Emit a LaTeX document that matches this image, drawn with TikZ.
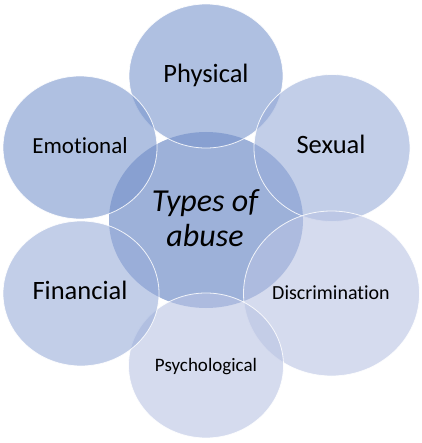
\documentclass[tikz,border=0pt]{standalone}
\usepackage{fontspec}
\setmainfont{Carlito}[Ligatures=NoCommon]
\usepackage{tikz}
\usetikzlibrary{positioning}
\definecolor{abuseHub}  {HTML}{9DB1D9}
\definecolor{abuseDark} {RGB}{122,150,205}
\definecolor{abuseMid}  {RGB}{153,173,217}
\definecolor{abuseLight}{RGB}{185,195,227}
\tikzset{
  petal/.style={fill opacity=0.6, draw=white, draw opacity=0.85, line width=0.8pt},
  petaltext/.style={anchor=base, text=black, inner sep=0pt},
}

\begin{document}
\begin{tikzpicture}[x=1pt, y=-1pt]
  \useasboundingbox (0,0) rectangle (421,443);
  % hub circle, no outline
  \fill[abuseHub] (206,220) ellipse [x radius=97, y radius=88];
  % six petals, clockwise from the top
  \foreach \cx/\cy/\rx/\ry/\col in {206/76/77/72/abuseDark, 332/148/78/73.5/abuseMid,
      331.5/293.5/88/82.5/abuseLight, 206/365.5/77.5/72.5/abuseLight,
      81/293.5/78/72.5/abuseMid, 80/147.5/77/71.5/abuseDark}{
    \filldraw[petal, fill=\col] (\cx,\cy) ellipse [x radius=\rx, y radius=\ry];
  }
  % labels
  \node[petaltext, font=\itshape\fontsize{32}{35}\selectfont, align=center] (hub) at (205,246) {Types of\\abuse};
  \node[petaltext, font=\fontsize{26.5}{30}\selectfont] (physical) at (206,83) {Physical};
  \node[petaltext, font=\fontsize{26.5}{30}\selectfont] (sexual) at (331,154) {Sexual};
  \node[petaltext, font=\fontsize{20}{24}\selectfont] (discrimination) at (331,299) {Discrimination};
  \node[petaltext, font=\fontsize{19}{23}\selectfont] (psychological) at (206,371) {Psychological};
  \node[petaltext, font=\fontsize{26.5}{30}\selectfont] (financial) at (80,299) {Financial};
  \node[petaltext, font=\fontsize{23}{27}\selectfont] (emotional) at (80,154) {Emotional};
\end{tikzpicture}
\end{document}
